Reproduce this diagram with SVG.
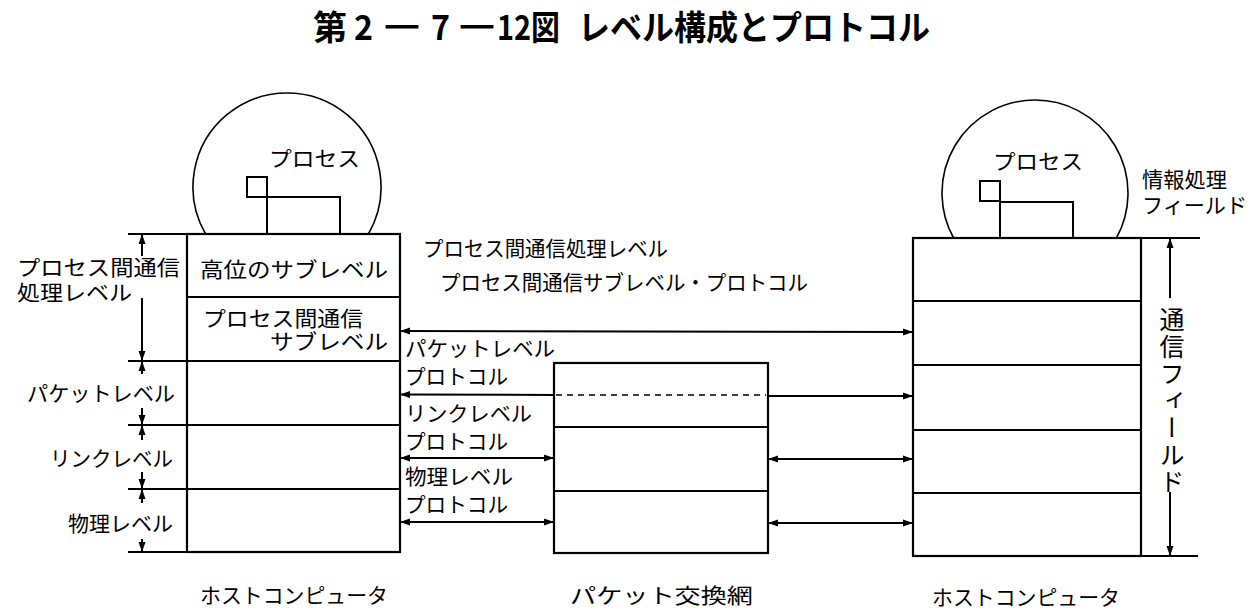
<svg xmlns="http://www.w3.org/2000/svg" width="1253" height="611" viewBox="0 0 1253 611">
<style>
.t{font-family:"Noto Sans CJK JP","Noto Sans CJK SC",sans-serif;font-size:21px;fill:#000;dominant-baseline:central;}
.ttl{font-family:"Noto Sans CJK JP","Noto Sans CJK SC",sans-serif;font-size:34px;font-weight:bold;fill:#000;dominant-baseline:central;}
.dsh{stroke:#000;stroke-width:2;}
.box{fill:#fff;stroke:#000;stroke-width:2.2;}
.ln{fill:none;stroke:#000;stroke-width:2;}
.thin{fill:none;stroke:#000;stroke-width:1.6;}
.arr{fill:none;stroke:#000;stroke-width:2;marker-end:url(#ah);marker-start:url(#ah);}
.arrE{fill:none;stroke:#000;stroke-width:2;marker-end:url(#ah);}
.arrS{fill:none;stroke:#000;stroke-width:2;marker-start:url(#ah);}
.dash{fill:none;stroke:#000;stroke-width:1.6;stroke-dasharray:6 5;}
</style>
<defs>
<marker id="ah" markerUnits="userSpaceOnUse" markerWidth="10" markerHeight="8" refX="9" refY="4" orient="auto-start-reverse">
<path d="M0,0.5 L10,4 L0,7.5 Z" fill="#000"/>
</marker>
</defs>
<rect width="1253" height="611" fill="#fff"/>

<g id="title">
<text class="ttl" x="313" y="25">第</text>
<text class="ttl" x="354" y="25" textLength="19" lengthAdjust="spacingAndGlyphs">2</text>
<text class="ttl dsh" x="384" y="25" textLength="36" lengthAdjust="spacingAndGlyphs">―</text>
<text class="ttl" x="431" y="25" textLength="19" lengthAdjust="spacingAndGlyphs">7</text>
<text class="ttl dsh" x="459" y="25" textLength="36" lengthAdjust="spacingAndGlyphs">―</text>
<text class="ttl" x="497" y="25" textLength="63" lengthAdjust="spacingAndGlyphs">12図</text>
<text class="ttl" x="578" y="25" textLength="352" lengthAdjust="spacingAndGlyphs">レベル構成とプロトコル</text>
</g>

<g id="host-left">
<path class="thin" d="M205.6,234 A94,94 0 1 1 368.4,234"/>
<rect class="ln" x="247" y="177" width="20" height="20"/>
<path class="ln" d="M267,197 V234 M267,197 H340 V234"/>
<text class="t" x="269" y="157" textLength="91" lengthAdjust="spacingAndGlyphs">プロセス</text>
<rect class="box" x="187" y="234" width="213" height="318"/>
<path class="ln" d="M187,297 H400 M187,361 H400 M187,425 H400 M187,489 H400"/>
<text class="t" x="200" y="268" textLength="188" lengthAdjust="spacingAndGlyphs">高位のサブレベル</text>
<text class="t" x="203" y="317" textLength="160" lengthAdjust="spacingAndGlyphs">プロセス間通信</text>
<text class="t" x="270" y="340" textLength="118" lengthAdjust="spacingAndGlyphs">サブレベル</text>
<text class="t" x="200" y="594" textLength="188" lengthAdjust="spacingAndGlyphs">ホストコンピュータ</text>
</g>

<g id="packet-net">
<rect class="box" x="554" y="363" width="214" height="190"/>
<path class="dash" d="M556,395 H766"/>
<path class="ln" d="M554,427 H768 M554,491 H768"/>
<text class="t" x="570" y="594" textLength="183" lengthAdjust="spacingAndGlyphs">パケット交換網</text>
</g>

<g id="host-right">
<path class="thin" d="M953.6,238 A93,93 0 1 1 1116.4,238"/>
<rect class="ln" x="980" y="181" width="20" height="20"/>
<path class="ln" d="M1000,201 V238 M1000,202 H1073 V238"/>
<text class="t" x="993" y="160" textLength="90" lengthAdjust="spacingAndGlyphs">プロセス</text>
<rect class="box" x="913" y="238" width="228" height="318"/>
<path class="ln" d="M913,301 H1141 M913,365 H1141 M913,430 H1141 M913,493 H1141"/>
<text class="t" x="1142" y="178" textLength="85" lengthAdjust="spacingAndGlyphs">情報処理</text>
<text class="t" x="1142" y="204" textLength="105" lengthAdjust="spacingAndGlyphs">フィールド</text>
<text class="t" x="932" y="596" textLength="188" lengthAdjust="spacingAndGlyphs">ホストコンピュータ</text>
</g>

<g id="left-levels">
<path class="ln" d="M128,234 H187 M128,361 H187 M128,425 H187 M128,489 H187 M128,552 H187"/>
<path class="arrS" d="M142,235 V256"/>
<path class="arrE" d="M142,298 V360"/>
<path class="arrS" d="M142,362 V374"/>
<path class="arrE" d="M142,408 V424"/>
<path class="arrS" d="M142,426 V440"/>
<path class="arrE" d="M142,472 V488"/>
<path class="arrS" d="M142,490 V503"/>
<path class="arrE" d="M142,539 V551"/>
<text class="t" x="17" y="266" textLength="163" lengthAdjust="spacingAndGlyphs">プロセス間通信</text>
<text class="t" x="17" y="291" textLength="115" lengthAdjust="spacingAndGlyphs">処理レベル</text>
<text class="t" x="27" y="392" textLength="148" lengthAdjust="spacingAndGlyphs">パケットレベル</text>
<text class="t" x="50" y="457" textLength="123" lengthAdjust="spacingAndGlyphs">リンクレベル</text>
<text class="t" x="68" y="522" textLength="105" lengthAdjust="spacingAndGlyphs">物理レベル</text>
</g>

<g id="right-field">
<path class="ln" d="M1141,238 H1200 M1141,556 H1198"/>
<path class="arrS" d="M1170,239 V298"/>
<path class="arrE" d="M1170,492 V555"/>
<text x="1172" y="307" style="font-family:'Noto Sans CJK JP','Noto Sans CJK SC',sans-serif;font-size:25px;letter-spacing:2px;writing-mode:vertical-rl;fill:#000;">通信フィールド</text>
</g>

<g id="connectors">
<path class="arr" d="M401,331 L912,332"/>
<path class="arrS" d="M401,394.5 L554,395"/>
<path class="arrE" d="M768,396 L912,396"/>
<path class="arr" d="M401,458 L553,458"/>
<path class="arr" d="M769,459 L912,459"/>
<path class="arr" d="M401,522 L553,522"/>
<path class="arr" d="M769,523 L912,523"/>
<text class="t" x="423" y="247" textLength="245" lengthAdjust="spacingAndGlyphs">プロセス間通信処理レベル</text>
<text class="t" x="440" y="281" textLength="368" lengthAdjust="spacingAndGlyphs">プロセス間通信サブレベル・プロトコル</text>
<text class="t" x="405" y="347" textLength="150" lengthAdjust="spacingAndGlyphs">パケットレベル</text>
<text class="t" x="405" y="375" textLength="103" lengthAdjust="spacingAndGlyphs">プロトコル</text>
<text class="t" x="405" y="412" textLength="127" lengthAdjust="spacingAndGlyphs">リンクレベル</text>
<text class="t" x="405" y="440" textLength="103" lengthAdjust="spacingAndGlyphs">プロトコル</text>
<text class="t" x="405" y="475" textLength="108" lengthAdjust="spacingAndGlyphs">物理レベル</text>
<text class="t" x="405" y="503" textLength="103" lengthAdjust="spacingAndGlyphs">プロトコル</text>
</g>
</svg>
